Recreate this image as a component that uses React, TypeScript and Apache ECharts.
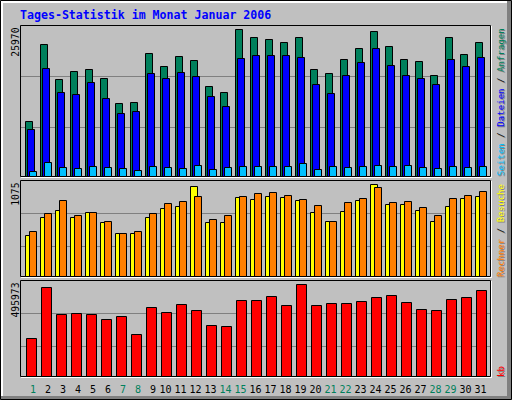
import React, { useEffect, useRef } from 'react';
import * as echarts from 'echarts';

const title = 'Tages-Statistik im Monat Januar 2006';
const days = ['1', '2', '3', '4', '5', '6', '7', '8', '9', '10', '11', '12', '13', '14', '15', '16',
  '17', '18', '19', '20', '21', '22', '23', '24', '25', '26', '27', '28', '29', '30', '31'];
const weekendDays = ['1', '7', '8', '14', '15', '21', '22', '28', '29'];

// Anfragen (hits)
const hits = [9720, 23320, 17140, 18550, 18900, 17310, 12900, 13070, 21730, 19430, 21200, 20490, 15900, 14840, 25970, 24560,
  24200, 23670, 24560, 18900, 18200, 20670, 22610, 25620, 22970, 20670, 20320, 17840, 24560, 21550, 23670];
// Dateien (files)
const files = [8300, 19080, 14840, 14490, 16610, 13780, 11130, 11480, 18200, 17310, 18370, 17670, 14130, 12370, 20850, 21380,
  21380, 21380, 21020, 16250, 14660, 17840, 20140, 22610, 19610, 17840, 17310, 16250, 20670, 19430, 21020];
// Seiten (pages)
const pages = [880, 2470, 1590, 1410, 1770, 1590, 1410, 1060, 1770, 1590, 1410, 1940, 1240, 1590, 1770, 1770,
  1770, 1770, 2300, 1240, 1770, 1590, 1770, 1940, 1770, 1940, 1590, 1410, 1770, 1590, 1770];
// Besuche (visits)
const visits = [479, 689, 771, 689, 748, 631, 502, 502, 689, 795, 818, 1052, 631, 631, 923, 900,
  935, 923, 888, 748, 643, 760, 888, 1075, 841, 841, 771, 643, 818, 911, 935];
// Rechner (sites)
const sites = [526, 736, 888, 713, 748, 643, 502, 526, 736, 853, 876, 935, 666, 713, 935, 970,
  982, 946, 900, 830, 643, 865, 911, 1040, 865, 876, 806, 713, 911, 946, 993];
// kb
const kbytes = [204860, 479800, 334240, 339630, 334240, 307290, 323460, 226420, 371980, 345020, 388150, 355800, 274940, 269550, 409710, 409710,
  431280, 382760, 495973, 382760, 393540, 393540, 404320, 425890, 436670, 398930, 361190, 355800, 415100, 425890, 463620];

const hitsMax = 25970;
const visitsMax = 1075;
const kbytesMax = 495973;

const C_HIT = '#00805C';
const C_FILE = '#0000FF';
const C_PAGE = '#00C0FF';
const C_VISIT = '#FFFF00';
const C_SITE = '#FF8000';
const C_KB = '#FF0000';
const C_BG = '#C0C0C0';
const C_DK = '#808080';
const MONO = '"DejaVu Sans Mono", monospace';

function makeBar(dx: number, w: number, color: string) {
  return (params: any, api: any) => {
    const idx = api.value(0);
    const p = api.coord([idx, api.value(1)]);
    const b = api.coord([idx, 0]);
    const x = Math.floor(p[0] + dx) + 0.5;
    const y = Math.round(p[1]) + 0.5;
    const yb = Math.round(b[1]) + 0.5;
    return {
      type: 'rect',
      shape: { x, y, width: w, height: yb - y },
      style: { fill: color, stroke: '#000', lineWidth: 1 },
    };
  };
}

function barSeries(values: number[], gi: number, dx: number, w: number, color: string) {
  return {
    type: 'custom',
    xAxisIndex: gi,
    yAxisIndex: gi,
    data: values.map((v, i) => [i, v]),
    encode: { x: 0, y: 1 },
    renderItem: makeBar(dx, w, color),
    z: 2,
    silent: true,
  };
}

const fillRect = (x: number, y: number, w: number, h: number, fill: string, z = 1) => ({
  type: 'rect', z, silent: true, shape: { x, y, width: w, height: h }, style: { fill },
});
const strokeRect = (x: number, y: number, w: number, h: number, z = 1) => ({
  type: 'rect', z, silent: true, shape: { x, y, width: w, height: h }, style: { fill: 'none', stroke: '#000', lineWidth: 1 },
});

function upText(x: number, y: number, text: string, rich: any, align: string, size: number, fill: string) {
  return {
    type: 'text', z: 5, silent: true, x, y, rotation: Math.PI / 2,
    style: { x: 0, y: 0, text, rich, align, verticalAlign: 'middle', fontFamily: MONO, fontSize: size, fill },
  };
}

function legend(x: number, y: number, parts: [string, string][]) {
  const sizeStyle = { fontFamily: MONO, fontSize: 9.1 };
  const rich: any = { s: { ...sizeStyle, fill: C_DK } };
  const richShadow: any = { s: { ...sizeStyle, fill: C_DK } };
  let txt = '';
  parts.forEach(([t, col], k) => {
    if (k > 0) txt += '{s| }{k|/}{s| }';
    txt += `{p${k}|${t}}`;
    rich['p' + k] = { ...sizeStyle, fill: col };
    richShadow['p' + k] = { ...sizeStyle, fill: C_DK };
  });
  rich.k = { ...sizeStyle, fill: '#000' };
  richShadow.k = { ...sizeStyle, fill: C_DK };
  return [
    upText(x + 1, y + 1, txt, richShadow, 'left', 9.1, C_DK),
    upText(x, y, txt, rich, 'left', 9.1, '#000'),
  ];
}

const gridDefs = [
  { top: 29, height: 147, max: hitsMax },
  { top: 184, height: 92, max: visitsMax },
  { top: 284, height: 92, max: kbytesMax },
];

const option: any = {
  animation: false,
  backgroundColor: C_BG,
  grid: gridDefs.map((g) => ({
    left: 23, width: 465, top: g.top, height: g.height, containLabel: false, outerBoundsMode: 'none',
  })),
  xAxis: gridDefs.map((g, gi) => ({
    type: 'category',
    gridIndex: gi,
    data: days,
    show: gi === 2,
    axisLine: { show: false },
    axisTick: { show: false },
    splitLine: { show: false },
    axisLabel: {
      show: gi === 2,
      interval: 0,
      margin: 7.5,
      fontFamily: MONO,
      fontSize: 10,
      lineHeight: 12,
      formatter: (v: string) => {
        const key = (weekendDays.includes(v) ? 'w' : 'n') + (v.length === 1 ? '1' : '2');
        return `{${key}|${v}}`;
      },
      rich: {
        w1: { color: C_HIT, fontFamily: MONO, fontSize: 10, lineHeight: 12, padding: [0, 0, 0, 5] },
        w2: { color: C_HIT, fontFamily: MONO, fontSize: 10, lineHeight: 12 },
        n1: { color: '#000', fontFamily: MONO, fontSize: 10, lineHeight: 12, padding: [0, 0, 0, 5] },
        n2: { color: '#000', fontFamily: MONO, fontSize: 10, lineHeight: 12 },
      },
    },
  })),
  yAxis: gridDefs.map((g, gi) => ({
    type: 'value', gridIndex: gi, min: 0, max: g.max, show: false,
    splitLine: { show: false },
  })),
  series: [
    barSeries(hits, 0, -5, 7, C_HIT),
    barSeries(files, 0, -3, 7, C_FILE),
    barSeries(pages, 0, -1, 7, C_PAGE),
    barSeries(visits, 1, -5, 7, C_VISIT),
    barSeries(sites, 1, -1, 7, C_SITE),
    barSeries(kbytes, 2, -4, 10, C_KB),
  ],
  graphic: {
    elements: [
      // outer bevel
      fillRect(1, 1, 510, 2, '#FFFFFF', 0),
      fillRect(1, 1, 2, 398, '#FFFFFF', 0),
      fillRect(507, 1, 4, 398, C_DK, 0),
      fillRect(1, 396, 510, 3, C_DK, 0),
      strokeRect(0.5, 0.5, 511, 399, 0),
      // grid lines
      fillRect(21, 76, 469, 1, C_DK),
      fillRect(21, 127, 469, 1, C_DK),
      fillRect(21, 213, 469, 1, C_DK),
      fillRect(21, 246, 469, 1, C_DK),
      fillRect(21, 313, 469, 1, C_DK),
      fillRect(21, 346, 469, 1, C_DK),
      // panel frames
      strokeRect(20.5, 25.5, 470, 151),
      fillRect(21, 177, 471, 1, '#FFFFFF'),
      fillRect(491, 26, 1, 152, '#FFFFFF'),
      strokeRect(20.5, 180.5, 470, 96),
      fillRect(21, 277, 471, 1, '#FFFFFF'),
      fillRect(491, 181, 1, 97, '#FFFFFF'),
      strokeRect(20.5, 280.5, 470, 96),
      fillRect(21, 377, 471, 1, '#FFFFFF'),
      fillRect(491, 281, 1, 97, '#FFFFFF'),
      // title
      {
        type: 'text', z: 5, silent: true, x: 20, y: 15,
        style: { text: title, fill: '#0000FF', fontFamily: MONO, fontWeight: 'bold', fontSize: 11.6, verticalAlign: 'middle', align: 'left' },
      },
      // max labels
      upText(15, 27.5, String(hitsMax), undefined, 'right', 9.7, '#000'),
      upText(15, 182.5, String(visitsMax), undefined, 'right', 9.7, '#000'),
      upText(15, 282.5, String(kbytesMax), undefined, 'right', 9.7, '#000'),
      // legends
      ...legend(500.5, 176, [['Seiten', C_PAGE], ['Dateien', C_FILE], ['Anfragen', C_HIT]]),
      ...legend(500.5, 277, [['Rechner', C_SITE], ['Besuche', C_VISIT]]),
      ...legend(500.5, 377, [['kb', C_KB]]),
    ],
  },
};

export default function App() {
  const ref = useRef<HTMLDivElement>(null);
  useEffect(() => {
    const chart = echarts.init(ref.current!, null, { renderer: 'svg' });
    chart.setOption(option);
    return () => chart.dispose();
  }, []);
  return <div ref={ref} style={{ position: 'fixed', left: 0, top: 0, width: 512, height: 400 }} />;
}
